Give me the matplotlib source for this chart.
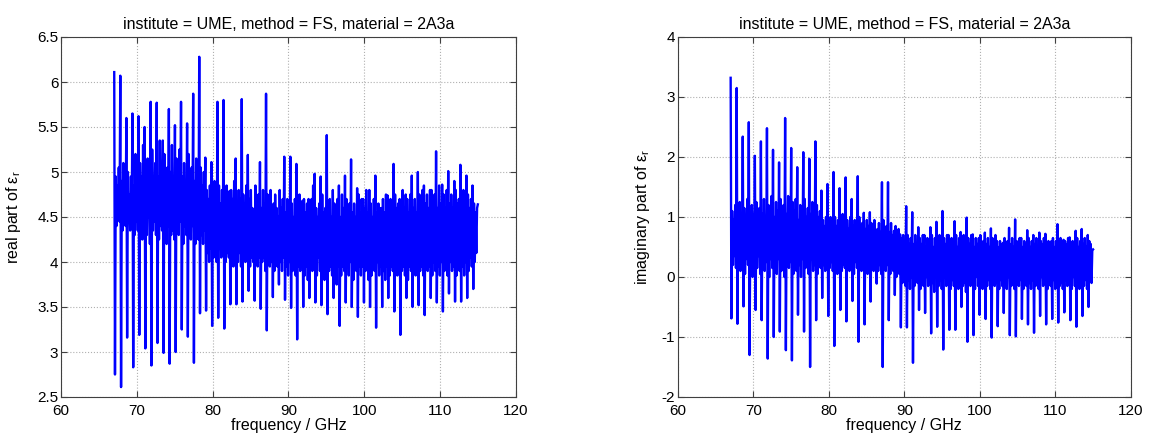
import matplotlib
matplotlib.use("Agg")
import matplotlib.pyplot as plt
import numpy as np

plt.rcParams['font.family'] = ['Liberation Sans', 'DejaVu Sans']
plt.rcParams['mathtext.fontset'] = 'custom'
plt.rcParams['mathtext.rm'] = 'Liberation Sans'
plt.rcParams['mathtext.it'] = 'Liberation Sans:italic'

title = "institute = UME, method = FS, material = 2A3a"

# each resonance period (~0.8 GHz) read as: peak, dip, then six body values
real_peak = [6.11, 6.07, 5.60, 5.65, 5.62, 5.50, 5.78, 5.77, 5.35, 5.70,
             5.52, 5.78, 5.54, 5.87, 6.28, 5.16, 5.11, 5.78, 5.80, 4.79,
             5.15, 5.81, 5.19, 4.55, 5.11, 5.87, 4.63, 4.51, 5.17, 5.17,
             5.09, 4.68, 4.70, 4.98, 4.95, 5.41, 4.80, 4.85, 4.96, 5.14,
             4.82, 4.70, 4.80, 4.96, 4.60, 4.74, 5.09, 4.70, 4.75, 4.96,
             5.00, 4.85, 4.80, 5.23, 4.86, 5.01, 4.90, 5.08, 4.96, 4.85]
real_dip = [2.75, 2.61, 3.16, 2.83, 3.19, 3.04, 2.85, 3.10, 2.99, 2.87,
            3.00, 3.25, 3.17, 2.88, 3.43, 3.46, 3.29, 3.38, 3.26, 3.53,
            3.53, 3.56, 3.68, 3.57, 3.48, 3.24, 3.61, 3.75, 3.58, 3.49,
            3.14, 3.50, 3.60, 3.55, 3.52, 3.42, 3.60, 3.29, 3.55, 3.50,
            3.39, 3.55, 3.50, 3.27, 3.50, 3.60, 3.45, 3.19, 3.60, 3.50,
            3.52, 3.41, 3.60, 3.55, 3.45, 3.65, 3.56, 3.56, 3.60, 3.70]
real_body = [
    [4.95, 4.40, 4.85, 4.50, 5.05, 4.45], [4.90, 4.35, 5.10, 4.55, 4.80, 4.40],
    [5.00, 4.45, 4.75, 4.35, 4.95, 4.50], [4.85, 4.30, 5.20, 4.45, 4.90, 4.35],
    [5.10, 4.40, 4.95, 4.25, 5.30, 4.45], [4.90, 4.30, 5.15, 4.50, 4.85, 4.20],
    [5.25, 4.35, 4.95, 4.45, 5.10, 4.30], [4.95, 4.25, 5.35, 4.40, 4.90, 4.35],
    [5.20, 4.45, 4.85, 4.20, 5.05, 4.40], [5.00, 4.30, 5.30, 4.35, 4.95, 4.25],
    [5.15, 4.40, 4.90, 4.30, 5.25, 4.45], [4.95, 4.20, 5.10, 4.40, 4.85, 4.30],
    [5.20, 4.35, 4.90, 4.25, 5.05, 4.40], [4.90, 4.20, 5.15, 4.35, 4.80, 4.25],
    [5.05, 4.30, 4.85, 4.20, 5.00, 4.35], [4.80, 4.10, 4.70, 4.00, 4.85, 4.15],
    [4.75, 4.05, 4.90, 4.10, 4.70, 4.00], [4.85, 4.15, 4.65, 4.05, 4.80, 4.10],
    [4.70, 4.00, 4.85, 4.10, 4.65, 4.05], [4.80, 4.10, 4.70, 3.95, 4.90, 4.05],
    [4.65, 4.00, 4.80, 4.10, 4.70, 3.95], [4.75, 4.05, 4.65, 4.00, 4.85, 4.10],
    [4.70, 3.95, 4.80, 4.05, 4.60, 4.00], [4.85, 4.10, 4.65, 3.95, 4.75, 4.05],
    [4.60, 4.00, 4.80, 4.05, 4.65, 3.90], [4.75, 4.05, 4.60, 3.95, 4.80, 4.00],
    [4.65, 3.90, 4.75, 4.05, 4.60, 3.95], [4.80, 4.00, 4.60, 3.90, 4.70, 4.05],
    [4.55, 3.95, 4.70, 3.85, 4.60, 4.00], [4.65, 3.90, 4.50, 4.00, 4.70, 3.85],
    [4.55, 3.95, 4.75, 3.90, 4.50, 4.00], [4.70, 3.85, 4.55, 3.95, 4.65, 3.80],
    [4.50, 4.00, 4.70, 3.90, 4.85, 3.95], [4.60, 3.85, 4.50, 4.05, 4.65, 3.90],
    [4.75, 3.95, 4.55, 3.80, 4.60, 4.00], [4.55, 3.90, 4.70, 3.95, 4.50, 3.85],
    [4.65, 4.00, 4.55, 3.75, 4.70, 3.95], [4.50, 3.85, 4.75, 3.95, 4.60, 3.90],
    [4.70, 3.95, 4.50, 3.85, 4.65, 4.00], [4.55, 3.80, 4.65, 3.95, 4.50, 3.90],
    [4.75, 3.95, 4.55, 3.85, 4.70, 3.95], [4.60, 3.90, 4.80, 4.00, 4.55, 3.80],
    [4.65, 3.85, 4.50, 3.95, 4.70, 3.90], [4.55, 4.00, 4.65, 3.85, 4.60, 3.95],
    [4.70, 3.90, 4.55, 3.80, 4.75, 3.95], [4.60, 3.85, 4.70, 3.95, 4.55, 3.90],
    [4.75, 3.95, 4.60, 3.85, 4.65, 4.00], [4.55, 3.90, 4.80, 3.95, 4.60, 3.85],
    [4.70, 3.80, 4.55, 3.95, 4.75, 3.90], [4.60, 3.95, 4.70, 3.85, 4.55, 4.00],
    [4.75, 3.90, 4.60, 3.95, 4.80, 3.85], [4.65, 3.95, 4.75, 3.90, 4.60, 3.95],
    [4.80, 3.85, 4.65, 4.00, 4.75, 3.90], [4.60, 3.95, 4.85, 3.85, 4.65, 4.00],
    [4.75, 3.90, 4.60, 3.95, 4.80, 3.85], [4.65, 4.00, 4.75, 3.90, 4.60, 3.95],
    [4.80, 3.85, 4.65, 4.00, 4.70, 3.90], [4.60, 3.95, 4.80, 3.85, 4.65, 4.00],
    [4.75, 3.90, 4.60, 4.05, 4.70, 3.95], [4.65, 4.00, 4.55, 4.10, 4.60, 4.64],
]

imag_peak = [3.32, 3.15, 2.34, 2.58, 2.02, 2.26, 2.48, 2.12, 1.91, 2.65,
             2.15, 1.83, 2.08, 1.97, 2.26, 1.44, 1.55, 1.75, 1.48, 1.66,
             1.30, 1.68, 1.07, 1.08, 0.64, 1.58, 1.58, 0.77, 0.71, 1.18,
             1.08, 0.83, 0.70, 0.83, 0.92, 1.10, 0.70, 0.93, 0.75, 0.99,
             0.71, 0.65, 0.74, 0.81, 0.60, 0.57, 0.82, 0.96, 0.65, 0.78,
             0.70, 0.74, 0.72, 0.60, 0.88, 0.62, 0.66, 0.77, 0.80, 0.70]
imag_dip = [-0.69, -0.78, -0.49, -1.30, -0.55, -0.72, -1.36, -1.00, -0.91, -1.22,
            -1.39, -0.63, -0.91, -1.50, -0.72, -0.35, -0.65, -1.15, -0.55, -0.74,
            -0.40, -1.08, -0.79, -0.41, -0.11, -1.50, -0.72, -0.30, -0.84, -0.84,
            -1.43, -0.55, -0.60, -0.94, -0.83, -1.21, -0.88, -0.88, -0.50, -1.08,
            -0.97, -0.63, -0.70, -1.01, -0.82, -0.60, -0.97, -0.99, -0.70, -0.79,
            -0.93, -0.65, -0.79, -0.70, -0.76, -0.59, -0.72, -0.83, -0.65, -0.50]
imag_body = [
    [1.10, 0.20, 0.95, 0.35, 1.20, 0.15], [1.00, 0.30, 1.25, 0.10, 0.90, 0.25],
    [1.15, 0.05, 0.95, 0.30, 1.30, 0.20], [0.90, 0.25, 1.20, 0.00, 1.05, 0.30],
    [1.25, 0.15, 0.95, 0.35, 1.15, 0.05], [1.05, 0.30, 1.30, 0.10, 0.95, 0.25],
    [1.20, 0.00, 1.05, 0.30, 1.35, 0.15], [1.00, 0.25, 1.25, 0.05, 1.10, 0.30],
    [1.30, 0.10, 0.95, 0.20, 1.20, 0.00], [1.05, 0.30, 1.35, 0.15, 1.00, 0.25],
    [1.25, 0.05, 1.10, 0.30, 1.30, 0.10], [0.95, 0.20, 1.20, 0.00, 1.05, 0.30],
    [1.30, 0.15, 1.00, 0.25, 1.15, 0.05], [1.05, 0.30, 1.25, 0.10, 0.95, 0.20],
    [1.20, 0.05, 1.00, 0.25, 1.10, 0.15], [0.95, 0.20, 0.85, 0.10, 1.00, 0.25],
    [0.85, 0.15, 1.00, 0.25, 0.90, 0.10], [1.00, 0.20, 0.85, 0.05, 0.95, 0.25],
    [0.90, 0.10, 1.05, 0.20, 0.85, 0.15], [0.95, 0.25, 0.80, 0.10, 1.00, 0.20],
    [0.85, 0.05, 0.95, 0.25, 0.80, 0.15], [1.00, 0.20, 0.85, 0.10, 0.90, 0.25],
    [0.80, 0.15, 0.95, 0.05, 0.85, 0.20], [0.90, 0.25, 0.75, 0.10, 0.95, 0.15],
    [0.80, 0.10, 0.90, 0.20, 0.75, 0.05], [0.95, 0.15, 0.80, 0.10, 0.85, 0.20],
    [0.75, 0.05, 0.90, 0.15, 0.70, 0.10], [0.85, 0.00, 0.70, 0.15, 0.80, 0.05],
    [0.65, -0.10, 0.70, 0.05, 0.60, -0.15], [0.70, -0.05, 0.55, -0.20, 0.65, 0.00],
    [0.55, -0.15, 0.70, 0.05, 0.50, -0.10], [0.65, -0.20, 0.55, -0.05, 0.70, -0.15],
    [0.50, 0.00, 0.65, -0.15, 0.55, -0.05], [0.70, -0.10, 0.50, -0.25, 0.65, 0.00],
    [0.55, -0.15, 0.70, -0.05, 0.50, -0.20], [0.65, 0.00, 0.55, -0.15, 0.70, -0.10],
    [0.50, -0.20, 0.65, -0.05, 0.55, -0.15], [0.70, -0.05, 0.50, -0.20, 0.65, 0.00],
    [0.55, -0.15, 0.70, -0.10, 0.50, -0.25], [0.65, -0.05, 0.55, -0.15, 0.70, -0.05],
    [0.50, -0.20, 0.65, 0.00, 0.55, -0.15], [0.70, -0.10, 0.50, -0.20, 0.60, -0.05],
    [0.55, -0.15, 0.65, -0.05, 0.50, -0.20], [0.65, 0.00, 0.55, -0.15, 0.70, -0.10],
    [0.50, -0.20, 0.60, -0.05, 0.55, -0.15], [0.65, -0.05, 0.50, -0.20, 0.60, 0.00],
    [0.55, -0.15, 0.65, -0.10, 0.50, -0.20], [0.60, -0.05, 0.55, -0.15, 0.65, -0.05],
    [0.50, -0.20, 0.60, 0.00, 0.55, -0.15], [0.65, -0.10, 0.50, -0.20, 0.60, -0.05],
    [0.55, -0.15, 0.65, -0.05, 0.50, -0.20], [0.60, 0.00, 0.55, -0.15, 0.65, -0.10],
    [0.50, -0.20, 0.60, -0.05, 0.55, -0.15], [0.65, -0.05, 0.50, -0.20, 0.60, 0.00],
    [0.55, -0.15, 0.65, -0.10, 0.50, -0.20], [0.60, -0.05, 0.55, -0.15, 0.65, -0.05],
    [0.50, -0.20, 0.60, 0.00, 0.55, -0.15], [0.65, -0.10, 0.50, -0.20, 0.60, -0.05],
    [0.55, -0.15, 0.65, -0.05, 0.50, -0.20], [0.60, 0.00, 0.55, -0.10, 0.45, 0.46],
]

real = np.column_stack([real_peak, real_dip, np.array(real_body)]).ravel()
imag = np.column_stack([imag_peak, imag_dip, np.array(imag_body)]).ravel()
freq = np.linspace(67.0, 115.0, len(real))  # GHz sweep

fig = plt.figure(figsize=(11.51, 4.37), dpi=100)
ax1 = fig.add_axes([61.2 / 1151, 40 / 437, 454.5 / 1151, 360 / 437])
ax2 = fig.add_axes([677.8 / 1151, 40 / 437, 453 / 1151, 360 / 437])

panels = [
    (ax1, real, (2.5, 6.5), np.arange(2.5, 6.51, 0.5), "real part of ε$_\\mathrm{r}$", 10),
    (ax2, imag, (-2, 4), np.arange(-2, 4.1, 1), "imaginary part of ε$_\\mathrm{r}$", 7),
]
for ax, y, ylim, yticks, ylabel, lpad in panels:
    ax.plot(freq, y, color=(0, 0, 1), lw=1.7)
    ax.set_xlim(60, 120)
    ax.set_ylim(*ylim)
    ax.set_xticks(np.arange(60, 121, 10))
    ax.set_yticks(yticks)
    ax.set_yticklabels([f"{v:g}" for v in yticks])
    ax.grid(True, color="#b0b0b0", linestyle=":", linewidth=0.8)
    ax.tick_params(direction="in", top=True, right=True, labelsize=11, length=4,
                   color="#404040")
    ax.tick_params(axis="x", pad=5)
    ax.tick_params(axis="y", pad=2)
    for s in ax.spines.values():
        s.set_color("#404040")
        s.set_linewidth(0.8)
    ax.set_title(title, fontsize=11.5, pad=6)
    ax.set_xlabel("frequency / GHz", fontsize=11.5, labelpad=0)
    ax.set_ylabel(ylabel, fontsize=11.5, labelpad=lpad)

fig.savefig("out.png", dpi=100)
